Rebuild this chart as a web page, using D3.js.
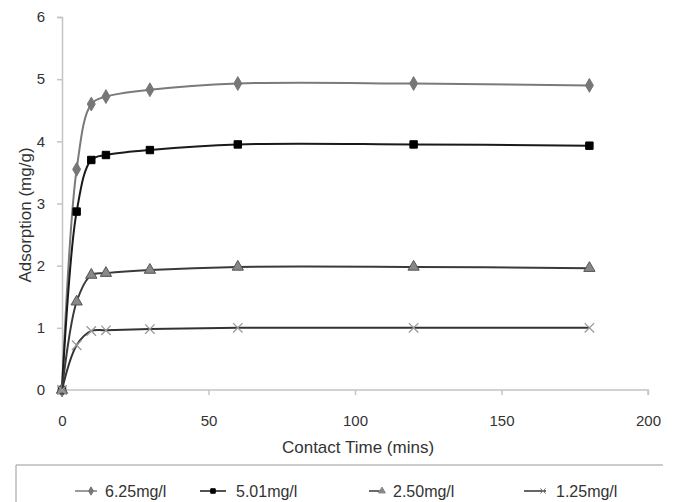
<!DOCTYPE html>
<html>
<head>
<meta charset="utf-8">
<script src="https://cdn.jsdelivr.net/npm/d3@7"></script>
<style>
  body { margin: 0; background: #fff; }
  text { font-family: "Liberation Sans", Arial, sans-serif; fill: #333; }
</style>
</head>
<body>
<div id="chart"></div>
<script>
const times = [0, 5, 10, 15, 30, 60, 120, 180];
const conc625 = [0, 3.55, 4.6, 4.72, 4.83, 4.93, 4.93, 4.9];
const conc501 = [0, 2.87, 3.7, 3.78, 3.86, 3.95, 3.95, 3.93];
const conc250 = [0, 1.42, 1.85, 1.88, 1.93, 1.98, 1.98, 1.96];
const conc125 = [0, 0.72, 0.95, 0.96, 0.98, 1.0, 1.0, 1.0];
const seriesNames = ['6.25mg/l', '5.01mg/l', '2.50mg/l', '1.25mg/l'];
const xTicks = [0, 50, 100, 150, 200];
const yTicks = [0, 1, 2, 3, 4, 5, 6];

const width = 675, height = 502;
const svg = d3.select('#chart').append('svg')
  .attr('width', width)
  .attr('height', height);

const x = d3.scaleLinear().domain([0, 200]).range([62, 648]);
const y = d3.scaleLinear().domain([0, 6]).range([390, 17]);

// axes
const yAxis = svg.append('g')
  .attr('transform', 'translate(62,0)')
  .call(d3.axisLeft(y).tickValues(yTicks).tickFormat(d3.format('d')).tickSize(5).tickPadding(12));
const xAxis = svg.append('g')
  .attr('transform', 'translate(0,390)')
  .call(d3.axisBottom(x).tickValues(xTicks).tickFormat(d3.format('d')).tickSize(5).tickPadding(20));
[yAxis, xAxis].forEach(a => {
  a.selectAll('path, line').attr('stroke', '#c4c4c4').attr('stroke-width', 1.5);
  a.selectAll('text').attr('font-size', 15).attr('fill', '#333')
    .attr('font-family', '"Liberation Sans", Arial, sans-serif');
});
xAxis.select('.domain').attr('d', 'M62,5V0H648V5');

svg.append('text')
  .attr('x', 358).attr('y', 453)
  .attr('text-anchor', 'middle')
  .attr('font-size', 17)
  .text('Contact Time (mins)');

svg.append('text')
  .attr('transform', 'translate(31,215) rotate(-90)')
  .attr('text-anchor', 'middle')
  .attr('font-size', 17)
  .text('Adsorption (mg/g)');

const series = [
  { name: seriesNames[0], values: conc625, line: '#7a7a7a', mark: 'diamond', fill: '#777' },
  { name: seriesNames[1], values: conc501, line: '#1a1a1a', mark: 'square', fill: '#000' },
  { name: seriesNames[2], values: conc250, line: '#3a3a3a', mark: 'triangle', fill: '#888' },
  { name: seriesNames[3], values: conc125, line: '#333', mark: 'cross', fill: '#999' }
];

const symbolType = {
  diamond: d3.symbolDiamond,
  square: d3.symbolSquare,
  triangle: d3.symbolTriangle,
  cross: d3.symbolX
};

const line = d3.line()
  .x(d => x(d[0]))
  .y(d => y(d[1]))
  .curve(d3.curveCatmullRom.alpha(0.5));

series.forEach(s => {
  const pts = times.map((t, i) => [t, s.values[i]]);
  svg.append('path')
    .datum(pts)
    .attr('fill', 'none')
    .attr('stroke', s.line)
    .attr('stroke-width', 2)
    .attr('d', line);

  svg.append('g')
    .selectAll('path')
    .data(pts)
    .enter().append('path')
    .attr('transform', d => `translate(${x(d[0])},${y(d[1])})`)
    .attr('d', d3.symbol().type(symbolType[s.mark]).size(s.mark === 'cross' ? 60 : 55))
    .attr('fill', s.mark === 'cross' ? 'none' : s.fill)
    .attr('stroke', s.mark === 'cross' ? '#999' : (s.mark === 'triangle' ? '#555' : s.fill))
    .attr('stroke-width', s.mark === 'cross' ? 1.3 : 1);
});

// legend box (partly cut off at bottom)
svg.append('path')
  .attr('d', 'M16,502V465H663')
  .attr('fill', 'none')
  .attr('stroke', '#999')
  .attr('stroke-width', 1);

const legendLine = [[75, 97], [200, 226], [369, 384], [524, 546]];
const legendText = [105, 236, 393, 556];
const legendMark = [91, 213, 382, 543];
const legend = svg.append('g');
series.forEach((s, i) => {
  const g = legend.append('g').attr('transform', 'translate(0,491)');
  g.append('line')
    .attr('x1', legendLine[i][0]).attr('x2', legendLine[i][1])
    .attr('y1', 0).attr('y2', 0)
    .attr('stroke', s.line).attr('stroke-width', 1.5);
  g.append('path')
    .attr('transform', `translate(${legendMark[i]},0)`)
    .attr('d', d3.symbol().type(symbolType[s.mark]).size(20))
    .attr('fill', s.mark === 'cross' ? 'none' : s.fill)
    .attr('stroke', s.mark === 'cross' ? '#777' : s.fill);
  g.append('text')
    .attr('x', legendText[i]).attr('y', 6)
    .attr('font-size', 16)
    .text(s.name);
});
</script>
</body>
</html>
